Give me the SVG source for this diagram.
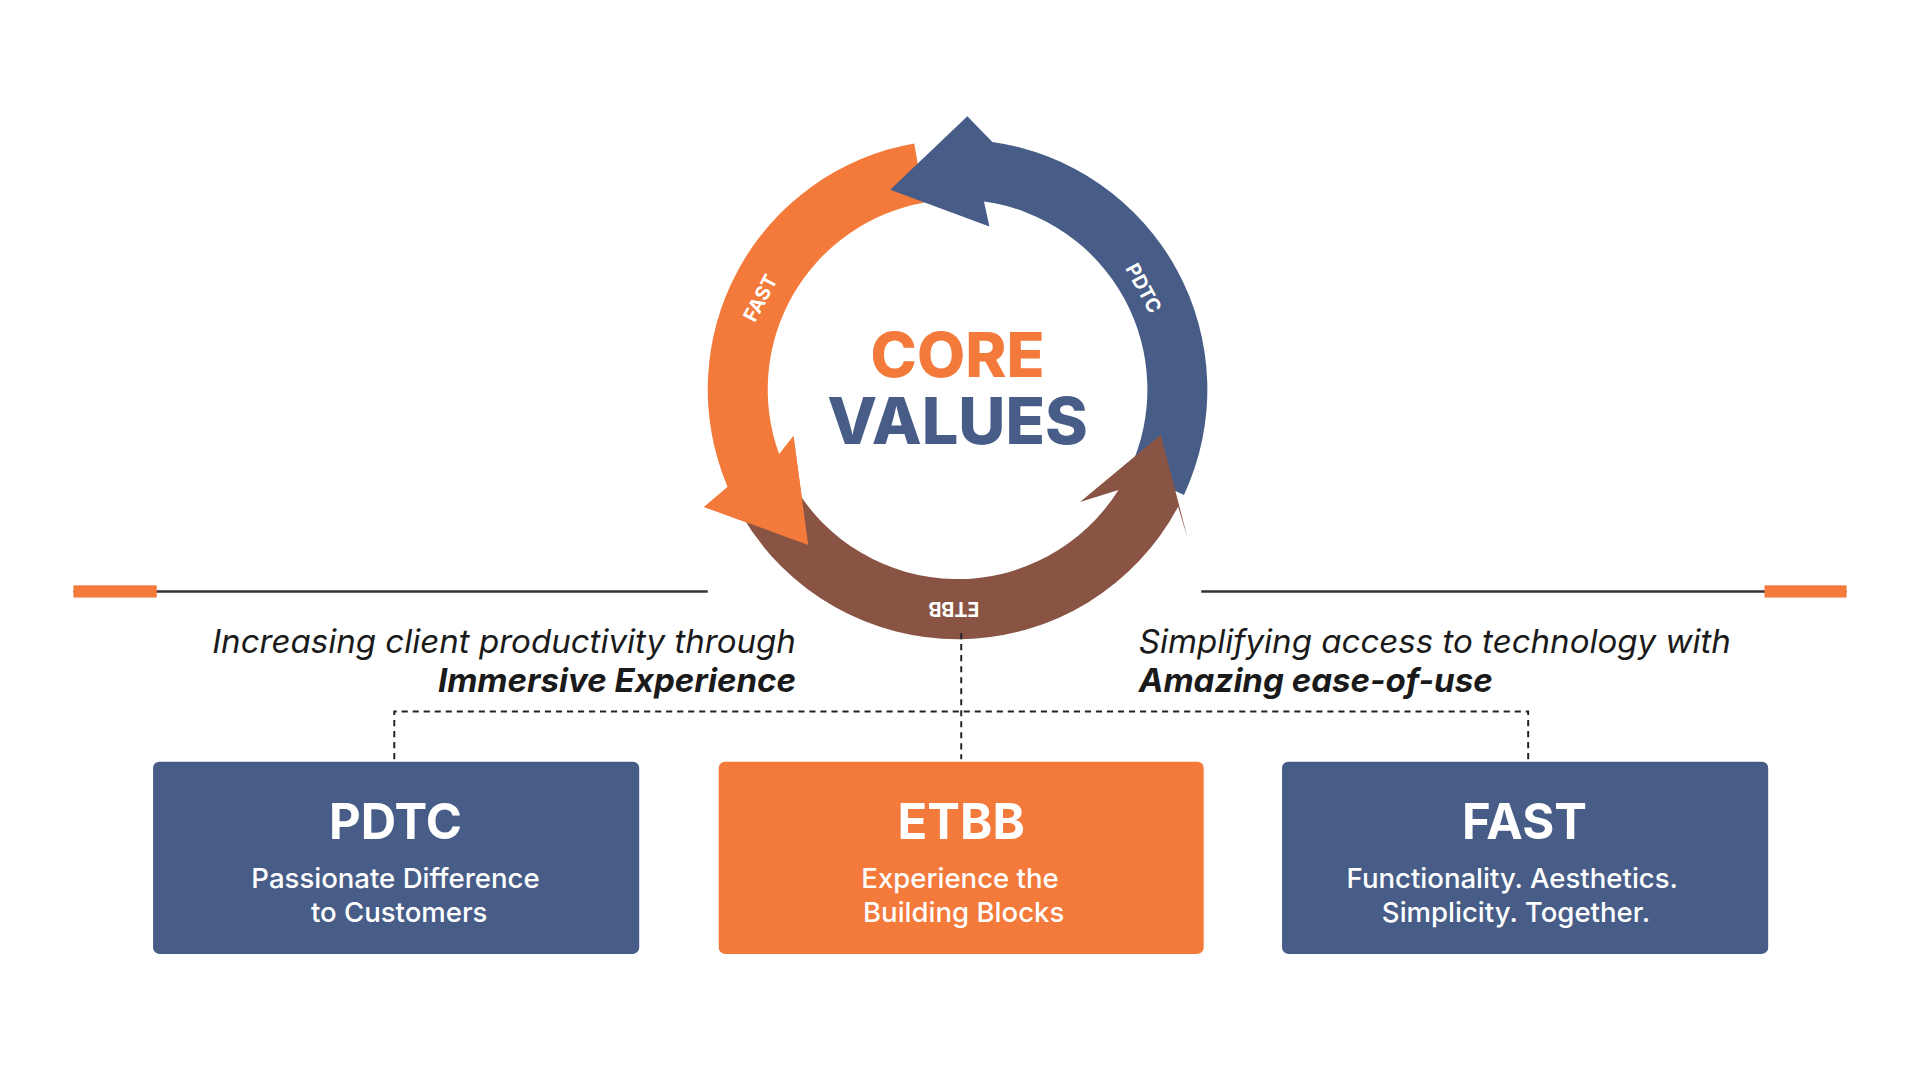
<svg xmlns="http://www.w3.org/2000/svg" width="1920" height="1080" viewBox="0 0 1920 1080">
<style>
.t{font-family:Inter,"Noto Sans",sans-serif}
.o{fill:#F37A3B}.b{fill:#475D87}.r{fill:#8A5445}
.arc{font-family:Inter,sans-serif;font-weight:700;font-size:16px;fill:#fff;text-anchor:middle}
.tag{font-family:Inter,sans-serif;font-style:italic;font-size:27px;fill:#1a1a1a}
.h{font-family:Inter,sans-serif;font-weight:700;font-size:40px;fill:#fff;text-anchor:middle}
.s{font-family:Inter,sans-serif;font-weight:500;font-size:22.5px;fill:#fff;text-anchor:middle}
.d{stroke:#222;stroke-width:1.6;stroke-dasharray:5 4;fill:none}
</style>
<rect width="1920" height="1080" fill="#fff"/>
<g transform="scale(1.2245)">
<g id="cycle">
<path class="o" d="M746.6 117.1 A204 204 0 0 0 594.2 397.7 L575 414 L660 445 L648 356 L636.3 371 A155 155 0 0 1 755.1 165.4 Z"/>
<path class="b" d="M966.9 404.2 A204 204 0 0 0 810.4 116 L790 95 L727 155 L808 185 L803.6 164.5 A155 155 0 0 1 922.5 383.5 Z"/>
<path class="r" d="M605.3 420 A204 204 0 0 0 962.1 413.8 L970 440 L948 355 L882 410 L913.4 400.1 A155 155 0 0 1 647.8 395.5 Z"/>
<polygon class="o" points="594.2,397.7 575,414 660,445 648,356 636.3,371"/>
<text class="arc" transform="translate(626,246) rotate(-62)">FAST</text>
<text class="arc" transform="translate(929,238) rotate(62)">PDTC</text>
<text class="arc" transform="translate(779,492) rotate(180)">ETBB</text>
<text class="t" x="782" y="308" font-size="51" font-weight="800" fill="#F37A3B" text-anchor="middle">CORE</text>
<text class="t" x="782" y="363" font-size="53" font-weight="800" fill="#475D87" text-anchor="middle">VALUES</text>
</g>
<g id="lines">
<line x1="60" y1="483" x2="578" y2="483" stroke="#333" stroke-width="2"/>
<rect x="60" y="478" width="68" height="10" class="o"/>
<line x1="981" y1="483" x2="1508" y2="483" stroke="#333" stroke-width="2"/>
<rect x="1441" y="478" width="67" height="10" class="o"/>
</g>
<g id="taglines">
<text class="tag" x="650" y="533" text-anchor="end">Increasing client productivity through</text>
<text class="tag" x="650" y="565" text-anchor="end" font-weight="700">Immersive Experience</text>
<text class="tag" x="930" y="533">Simplifying access to technology with</text>
<text class="tag" x="930" y="565" font-weight="700">Amazing ease-of-use</text>
</g>
<g id="connectors">
<path class="d" d="M785 517 V620 M322 620 V581 H1248 V620"/>
</g>
<g id="pdtc">
<rect x="125" y="622" width="397" height="157" rx="5" class="b"/>
<text class="h" x="323" y="685">PDTC</text>
<text class="s" x="323" y="725">Passionate Difference</text>
<text class="s" x="326" y="753">to Customers</text>
</g>
<g id="etbb">
<rect x="587" y="622" width="396" height="157" rx="5" class="o"/>
<text class="h" x="785" y="685">ETBB</text>
<text class="s" x="784" y="725">Experience the</text>
<text class="s" x="787" y="753">Building Blocks</text>
</g>
<g id="fast">
<rect x="1047" y="622" width="397" height="157" rx="5" class="b"/>
<text class="h" x="1245" y="685">FAST</text>
<text class="s" x="1235" y="725">Functionality. Aesthetics.</text>
<text class="s" x="1238" y="753">Simplicity. Together.</text>
</g>
</g>
</svg>
